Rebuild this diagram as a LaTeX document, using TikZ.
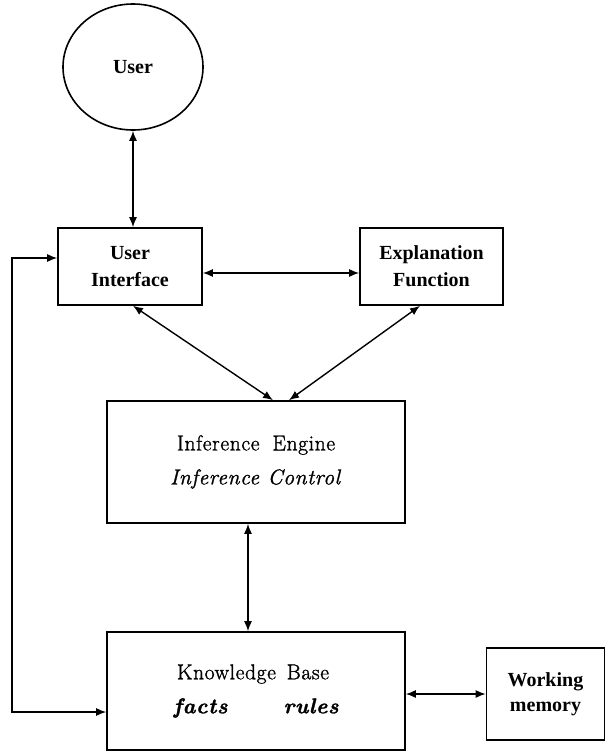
\documentclass[tikz,border=0pt]{standalone}
\usepackage{fontspec}
\newfontfamily\labfont{Liberation Serif}
\newfontfamily\bodyfont{Latin Modern Roman}[RawFeature={embolden=1.3}, LetterSpace=3]
\usetikzlibrary{arrows.meta,shapes.geometric}

\tikzset{
  box/.style={draw, line width=1.6pt, rectangle, inner sep=0pt, align=center,
              font=\bodyfont\fontsize{21.5}{34}\selectfont},
  boldbox/.style={box, font=\labfont\bfseries\fontsize{20}{27}\selectfont},
  link/.style={line width=1.4pt, {Latex[length=10pt,width=8pt]}-{Latex[length=10pt,width=8pt]}}
}

\begin{document}
\begin{tikzpicture}[x=1pt, y=-1pt]
  \useasboundingbox (0,0) rectangle (606,753);

  % user
  \node[draw, line width=1.6pt, ellipse, minimum width=140pt, minimum height=126pt,
        inner sep=0pt, font=\labfont\bfseries\fontsize{20}{27}\selectfont]
        (user) at (133,67) {User};

  % upper row
  \node[boldbox, minimum width=144pt, minimum height=77pt] (ui) at (130,266.5)
       {User\\Interface};
  \node[boldbox, minimum width=143pt, minimum height=77pt] (ef) at (431.5,266.5)
       {Explanation\\Function};

  % inference engine
  \node[box, minimum width=298pt, minimum height=122pt] (ie) at (256,462)
       {Inference\hspace{0.6em}Engine\\\textit{Inference\hspace{0.4em}Control}};

  % knowledge base
  \node[box, minimum width=298pt, minimum height=118pt] (kb) at (256,691)
       {\hspace*{-6pt}Knowledge\hspace{0.5em}Base\\{\bfseries\itshape facts\hspace{56pt}rules}};

  % working memory
  \node[boldbox, font=\labfont\bfseries\fontsize{20}{25}\selectfont,
        minimum width=118pt, minimum height=92pt] (wm) at (545.5,694)
       {Working\\memory};

  % connectors
  \draw[link] (user.south) -- (user.south |- ui.north);
  \draw[link] ([yshift=-6.5pt]ui.east) -- ([yshift=-6.5pt]ef.west);
  \draw[link] ([xshift=3pt]ui.south) -- ([xshift=17pt]ie.north);
  \draw[link] ([xshift=-11.5pt]ef.south) -- ([xshift=33pt]ie.north);
  \draw[link] ([xshift=-8pt]ie.south) -- ([xshift=-8pt]kb.north);
  \draw[link] ([yshift=-3pt]kb.east) -- (wm.west);

  % feedback loop on the left
  \coordinate (lt) at (12,258);
  \coordinate (lb) at (12,712);
  \draw[link] ([yshift=8.5pt]ui.west) -- (lt) -- (lb) -- ([yshift=-21pt]kb.west);
\end{tikzpicture}
\end{document}
